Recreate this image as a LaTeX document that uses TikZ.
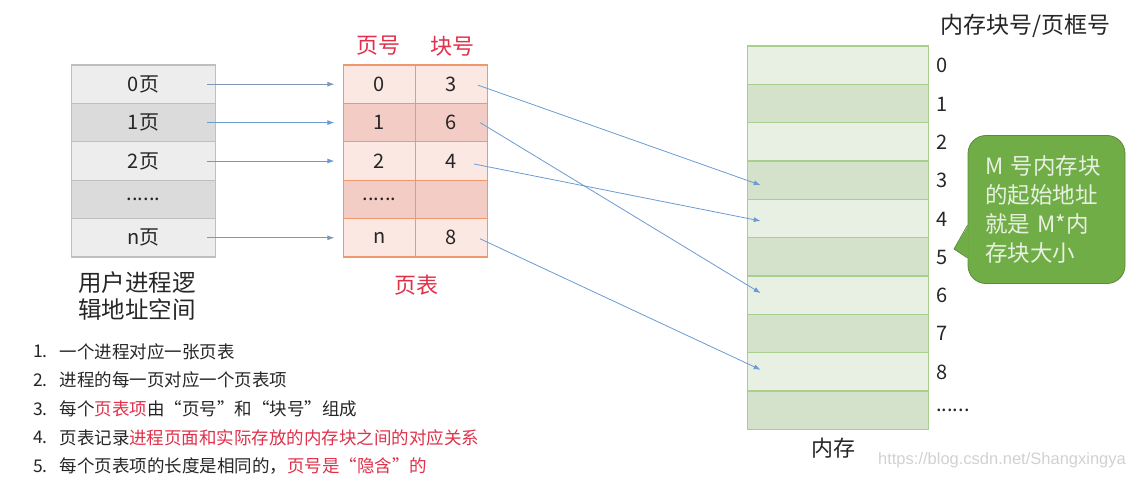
\documentclass[tikz,border=0pt]{standalone}
\usepackage{fontspec}
\setmainfont{Noto Sans CJK SC}
\newfontfamily\wmfont{Liberation Sans}
\usetikzlibrary{arrows.meta}
\definecolor{lgrayB}{HTML}{BFBFBF}
\definecolor{lgrayL}{HTML}{EDEDED}
\definecolor{lgrayD}{HTML}{DBDBDB}
\definecolor{porB}{HTML}{F1976C}
\definecolor{porL}{HTML}{FBE8E3}
\definecolor{porD}{HTML}{F3CDC5}
\definecolor{mgrB}{HTML}{A8CF8E}
\definecolor{mgrL}{HTML}{E8EFE3}
\definecolor{mgrD}{HTML}{D4E2CB}
\definecolor{ablue}{HTML}{6A9BD1}
\definecolor{agray}{HTML}{7F97B2}
\definecolor{tred}{HTML}{E0304A}
\definecolor{tdark}{HTML}{262626}
\definecolor{cgreen}{HTML}{70AD47}
\definecolor{cgreenB}{HTML}{5A8A3A}
\definecolor{ctext}{HTML}{E8F1E1}
\begin{document}
\begin{tikzpicture}[x=1pt,y=-1pt,
  every node/.style={text=tdark},
  lrow/.style={draw=lgrayB, line width=1.2pt, minimum width=143.5pt, minimum height=38.4pt, inner sep=0pt, font=\fontsize{20}{24}\selectfont},
  prow/.style={draw=porB, line width=1.2pt, minimum width=72pt, minimum height=38.4pt, inner sep=0pt, font=\fontsize{20}{24}\selectfont},
  mrow/.style={draw=mgrB, line width=1.2pt, minimum width=181pt, minimum height=38.33pt, inner sep=0pt},
  mnum/.style={anchor=west, inner sep=0pt, font=\fontsize{20}{24}\selectfont},
  bigtxt/.style={font=\fontsize{22}{26.5}\selectfont},
  listtxt/.style={anchor=west, inner sep=0pt, font=\fontsize{17.5}{21}\selectfont},
  arr/.style={draw=ablue, line width=0.8pt, -{Latex[length=7pt,width=5pt]}},
  arrg/.style={draw=agray, line width=0.8pt, -{Latex[length=7pt,width=5pt]}}
]
\useasboundingbox (0,0) rectangle (1132,479);

% left: logical address space
\node[lrow, fill=lgrayL] (L0) at (143.5,84.2) {0页};
\node[lrow, fill=lgrayD] (L1) at (143.5,122.6) {1页};
\node[lrow, fill=lgrayL] (L2) at (143.5,161.0) {2页};
\node[lrow, fill=lgrayD] (L3) at (143.5,199.4) {\raisebox{-2pt}{......}};
\node[lrow, fill=lgrayL] (L4) at (143.5,237.8) {n页};
\node[anchor=north west, align=left, inner sep=0pt, font=\fontsize{23.5}{26.5}\selectfont] (Ltitle) at (78,271.5) {用户进程逻\\辑地址空间};

% page table
\node[prow, fill=porL] (P0) at (379.5,84.2) {0};
\node[prow, fill=porD] (P1) at (379.5,122.6) {1};
\node[prow, fill=porL] (P2) at (379.5,161.0) {2};
\node[prow, fill=porD] (P3) at (379.5,199.4) {\raisebox{-2pt}{......}};
\node[prow, fill=porL] (P4) at (379.5,237.8) {n};
\node[prow, fill=porL] (B0) at (451.5,84.2) {3};
\node[prow, fill=porD] (B1) at (451.5,122.6) {6};
\node[prow, fill=porL] (B2) at (451.5,161.0) {4};
\node[prow, fill=porD] (B3) at (451.5,199.4) {};
\node[prow, fill=porL] (B4) at (451.5,237.8) {8};
\node[bigtxt, text=tred] (Hp) at (378,46) {页号};
\node[bigtxt, text=tred] (Hb) at (452,46) {块号};
\node[bigtxt, text=tred] (Pt) at (416,285) {页表};

% memory
\foreach \i [evaluate=\i as \yy using 46+19.165+38.33*\i] in {0,...,9}{
  \pgfmathtruncatemacro{\odd}{mod(\i,2)}
  \ifnum\odd=0
    \node[mrow, fill=mgrL] (M\i) at (837.8,\yy) {};
  \else
    \node[mrow, fill=mgrD] (M\i) at (837.8,\yy) {};
  \fi
}
\foreach \i/\yy in {0/65,1/104,2/142.5,3/180.5,4/219,5/257,6/295.5,7/333.5,8/372}{
  \node[mnum] (N\i) at (936,\yy) {\i};
}
\node[mnum] (Ndots) at (936,410) {......};
\node[font=\fontsize{23}{27}\selectfont] (Mtitle) at (1025,26) {内存块号/页框号};
\node[bigtxt] (Mem) at (833,448) {内存};

% callout
\node[rounded corners=18pt, fill=cgreen, draw=cgreenB, line width=0.8pt,
  text=ctext, text width=123pt, inner xsep=17pt, minimum height=148pt, align=left,
  font=\fontsize{22.5}{28.7}\selectfont] (Call) at (1046.5,209.5)
  {M 号内存块\\的起始地址\\就是 M*内\\存块大小};
\coordinate (tip) at (954,249);
\fill[cgreen] ([xshift=1pt,yshift=-15.5pt]Call.west) -- (tip) -- ([xshift=1pt,yshift=-48.5pt]Call.west) -- cycle;
\draw[cgreenB, line width=0.8pt, line join=round] ([yshift=-15.5pt]Call.west) -- (tip) -- ([yshift=-48.5pt]Call.west);

% arrows logical -> page table
\draw[arrg] ([xshift=-8.5pt]L0.east) -- ([xshift=-8.5pt]P0.west);
\draw[arr]  ([xshift=-8.5pt]L1.east) -- ([xshift=-8.5pt]P1.west);
\draw[arr]  ([xshift=-8.5pt]L2.east) -- ([xshift=-8.5pt]P2.west);
\draw[arrg] ([xshift=-8.5pt]L4.east) -- ([xshift=-8.5pt]P4.west);

% arrows page table -> memory
\draw[arr] ([xshift=-10pt,yshift=-1pt]B0.east) -- ([xshift=14pt,yshift=-5pt]M3.west);
\draw[arr] ([xshift=-8pt]B1.east) -- ([xshift=14pt,yshift=2pt]M6.west);
\draw[arr] ([xshift=-14pt,yshift=-3pt]B2.east) -- ([xshift=14pt,yshift=-2.5pt]M4.west);
\draw[arr] ([xshift=-8pt,yshift=-1pt]B4.east) -- ([xshift=14pt,yshift=2pt]M8.west);

% list
\foreach \i/\yy in {1/351.7,2/380.3,3/409,4/437.7,5/466.3}{
  \node[listtxt] (n\i) at (33,\yy) {\i.};
}
\node[listtxt] (t1) at (59.3,351.7) {一个进程对应一张页表};
\node[listtxt] (t2) at (59.3,380.3) {进程的每一页对应一个页表项};
\node[listtxt] (t3) at (59.3,409) {每个\textcolor{tred}{页表项}由“页号”和“块号”组成};
\node[listtxt] (t4) at (59.3,437.7) {页表记录\textcolor{tred}{进程页面和实际存放的内存块之间的对应关系}};
\node[listtxt] (t5) at (59.3,466.3) {每个页表项的长度是相同的，\textcolor{tred}{页号是“隐含”的}};

% watermark
\node[anchor=east, inner sep=0pt, text=black!18, font=\wmfont\fontsize{16.5}{20}\selectfont] (wm) at (1126,460) {https://blog.csdn.net/Shangxingya};
\end{tikzpicture}
\end{document}
